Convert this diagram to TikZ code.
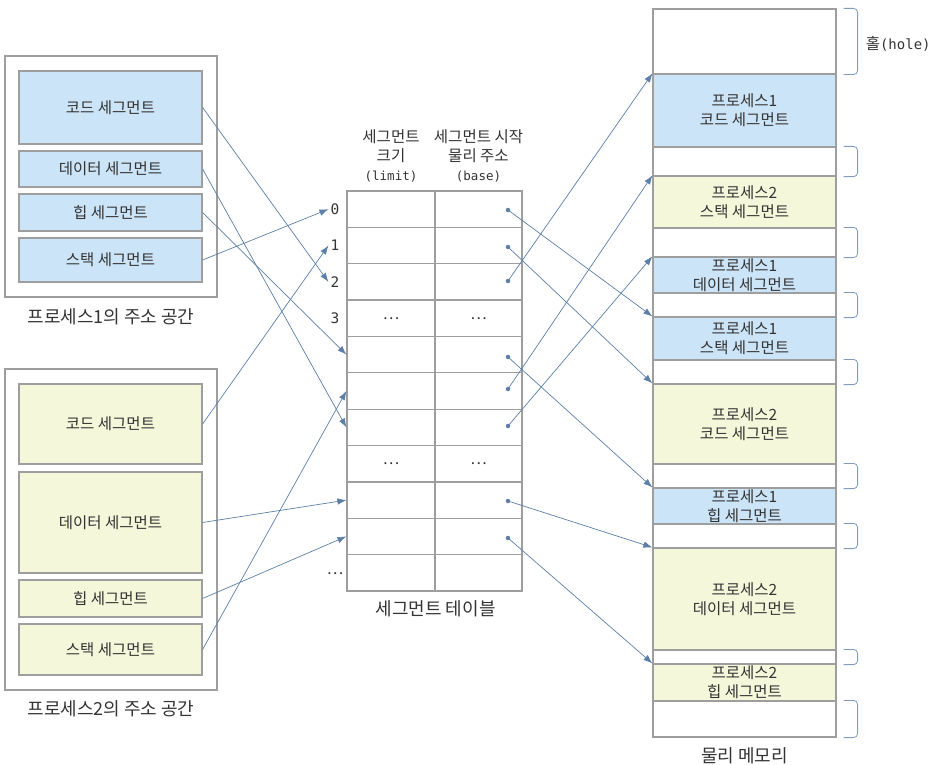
\documentclass[tikz,border=0pt]{standalone}
\usepackage{fontspec}
\setmainfont{Noto Sans CJK KR}
\setmonofont{DejaVu Sans Mono}
\usetikzlibrary{calc,arrows.meta}
\definecolor{FrameGray}{RGB}{158,158,158}
\definecolor{TextGray}{RGB}{51,51,51}
\definecolor{SegBlue}{RGB}{204,228,247}
\definecolor{SegYellow}{RGB}{245,247,218}
\definecolor{ArrowBlue}{RGB}{91,127,168}
\definecolor{BraceBlue}{RGB}{127,157,189}
\tikzset{%
	% Style of the address space frame
	SpaceFrame/.style={draw=FrameGray,line width=1.2pt,inner sep=0,minimum width=212},
	% Style of a segment of process 1
	SegOne/.style={draw=FrameGray,line width=1.2pt,fill=SegBlue,inner sep=0,minimum width=183,
		text=TextGray,align=center,font=\fontsize{15.5}{19}\selectfont},
	% Style of a segment of process 2
	SegTwo/.style={SegOne,fill=SegYellow},
	% Style of a hole in memory
	MemHole/.style={SegOne,fill=white},
	% Style of a table cell
	TableCell/.style={draw=FrameGray,line width=1.2pt,inner sep=0,minimum height=36.36,
		text=TextGray,font=\fontsize{15.5}{19}\selectfont},
	LimitCell/.style={TableCell,minimum width=88},
	BaseCell/.style={TableCell,minimum width=87},
	% Style of the row number
	RowName/.style={font=\ttfamily\fontsize{14.5}{16}\selectfont,text=TextGray,inner sep=2},
	% Style of the captions
	Caption/.style={font=\fontsize{18}{22}\selectfont,text=TextGray},
	% Style of the column titles
	ColName/.style={font=\fontsize{15.5}{19}\selectfont,text=TextGray,align=center},
	% Style of the base address dot
	Dot/.style={circle,fill=ArrowBlue,inner sep=0,minimum size=4.5},
	% Style of the connection
	Connection/.style={draw=ArrowBlue,line width=0.7pt,-{Latex[length=9pt,width=6.5pt]}},
	% Style of the hole brace
	HoleBrace/.style={draw=BraceBlue,line width=0.8pt,rounded corners=4pt},
}
\begin{document}
\begin{tikzpicture}[x=1pt,y=-1pt] % STYLES
\useasboundingbox (0,0) rectangle (934,765);

%~~~~~~~~~~~~~~~~~~~~~~~~~~~~~~~~~~~~~~~~~~~~~~~~~~
% Process address spaces
%~~~~~~~~~~~~~~~~~~~~~~~~~~~~~~~~~~~~~~~~~~~~~~~~~~
\node[SpaceFrame, minimum height=241] (P1Space) at (111, 176.5) {};
\node[Caption] at ($ (P1Space.south) + (0, 19) $) {프로세스1의 주소 공간};

\node[SegOne, minimum height=73] (P1Code) at (110.5, 107.5) {코드 세그먼트};
\node[SegOne, minimum height=36] (P1Data) at (110.5, 169) {데이터 세그먼트};
\node[SegOne, minimum height=37] (P1Heap) at (110.5, 212.5) {힙 세그먼트};
\node[SegOne, minimum height=44] (P1Stack) at (110.5, 260) {스택 세그먼트};

\node[SpaceFrame, minimum height=321] (P2Space) at (111, 529.5) {};
\node[Caption] at ($ (P2Space.south) + (0, 18) $) {프로세스2의 주소 공간};

\node[SegTwo, minimum height=80] (P2Code) at (110.5, 424) {코드 세그먼트};
\node[SegTwo, minimum height=101] (P2Data) at (110.5, 522.5) {데이터 세그먼트};
\node[SegTwo, minimum height=37] (P2Heap) at (110.5, 598.5) {힙 세그먼트};
\node[SegTwo, minimum height=51] (P2Stack) at (110.5, 649.5) {스택 세그먼트};

%~~~~~~~~~~~~~~~~~~~~~~~~~~~~~~~~~~~~~~~~~~~~~~~~~~
% Segment table
%~~~~~~~~~~~~~~~~~~~~~~~~~~~~~~~~~~~~~~~~~~~~~~~~~~
\node[LimitCell] (L0) at (391, 209.2) {};
\node[BaseCell] (B0) at (478.5, 209.2) {};
\node[LimitCell] (L1) at (391, 245.5) {};
\node[BaseCell] (B1) at (478.5, 245.5) {};
\node[LimitCell] (L2) at (391, 281.9) {};
\node[BaseCell] (B2) at (478.5, 281.9) {};
\node[LimitCell] (L3) at (391, 318.3) {…};
\node[BaseCell] (B3) at (478.5, 318.3) {…};
\node[LimitCell] (L4) at (391, 354.6) {};
\node[BaseCell] (B4) at (478.5, 354.6) {};
\node[LimitCell] (L5) at (391, 391.0) {};
\node[BaseCell] (B5) at (478.5, 391.0) {};
\node[LimitCell] (L6) at (391, 427.4) {};
\node[BaseCell] (B6) at (478.5, 427.4) {};
\node[LimitCell] (L7) at (391, 463.7) {…};
\node[BaseCell] (B7) at (478.5, 463.7) {…};
\node[LimitCell] (L8) at (391, 500.1) {};
\node[BaseCell] (B8) at (478.5, 500.1) {};
\node[LimitCell] (L9) at (391, 536.4) {};
\node[BaseCell] (B9) at (478.5, 536.4) {};
\node[LimitCell] (L10) at (391, 572.8) {};
\node[BaseCell] (B10) at (478.5, 572.8) {};

\node[ColName] at ($ (L0.north) + (0, -35) $) {세그먼트\\크기\\{\ttfamily\fontsize{12.5}{19}\selectfont (limit)}};
\node[ColName] at ($ (B0.north) + (0, -35) $) {세그먼트 시작\\물리 주소\\{\ttfamily\fontsize{12.5}{19}\selectfont (base)}};
\node[Caption] at ($ (L10.south east) + (0, 17) $) {세그먼트 테이블};

\node[RowName] (R0) at (335, 209.2) {0};
\node[RowName] (R1) at (335, 245.5) {1};
\node[RowName] (R2) at (335, 281.9) {2};
\node[RowName] (R3) at (335, 318.3) {3};
\node[TableCell, draw=none] at (335, 574) {…};

\node[Dot] (D0) at (508, 210) {};
\node[Dot] (D1) at (508, 247) {};
\node[Dot] (D2) at (508, 281) {};
\node[Dot] (D4) at (508, 357) {};
\node[Dot] (D5) at (508, 389) {};
\node[Dot] (D6) at (508, 426) {};
\node[Dot] (D8) at (508, 501) {};
\node[Dot] (D9) at (508, 538) {};

%~~~~~~~~~~~~~~~~~~~~~~~~~~~~~~~~~~~~~~~~~~~~~~~~~~
% Physical memory
%~~~~~~~~~~~~~~~~~~~~~~~~~~~~~~~~~~~~~~~~~~~~~~~~~~
\node[MemHole, minimum height=65] (H0) at (744.5, 41.5) {};
\node[SegOne, minimum height=73] (MemP1Code) at (744.5, 110.5) {프로세스1\\코드 세그먼트};
\node[MemHole, minimum height=29] (H1) at (744.5, 161.5) {};
\node[SegTwo, minimum height=52] (MemP2Stack) at (744.5, 202) {프로세스2\\스택 세그먼트};
\node[MemHole, minimum height=29] (H2) at (744.5, 242.5) {};
\node[SegOne, minimum height=36] (MemP1Data) at (744.5, 275) {프로세스1\\데이터 세그먼트};
\node[MemHole, minimum height=24] (H3) at (744.5, 305) {};
\node[SegOne, minimum height=43] (MemP1Stack) at (744.5, 338.5) {프로세스1\\스택 세그먼트};
\node[MemHole, minimum height=24] (H4) at (744.5, 372) {};
\node[SegTwo, minimum height=80] (MemP2Code) at (744.5, 424) {프로세스2\\코드 세그먼트};
\node[MemHole, minimum height=24] (H5) at (744.5, 476) {};
\node[SegOne, minimum height=36] (MemP1Heap) at (744.5, 506) {프로세스1\\힙 세그먼트};
\node[MemHole, minimum height=24] (H6) at (744.5, 536) {};
\node[SegTwo, minimum height=102] (MemP2Data) at (744.5, 599) {프로세스2\\데이터 세그먼트};
\node[MemHole, minimum height=14] (H7) at (744.5, 657) {};
\node[SegTwo, minimum height=37] (MemP2Heap) at (744.5, 682.5) {프로세스2\\힙 세그먼트};
\node[MemHole, minimum height=36] (H8) at (744.5, 719) {};
\node[Caption] at ($ (H8.south) + (0, 18) $) {물리 메모리};

\draw[HoleBrace] ($ (H0.north east) + (7, 0) $) -| ($ (H0.south east) + (21, 0) $) -- ($ (H0.south east) + (7, 0) $);
\draw[HoleBrace] ($ (H1.north east) + (7, 0) $) -| ($ (H1.south east) + (21, 0) $) -- ($ (H1.south east) + (7, 0) $);
\draw[HoleBrace] ($ (H2.north east) + (7, 0) $) -| ($ (H2.south east) + (21, 0) $) -- ($ (H2.south east) + (7, 0) $);
\draw[HoleBrace] ($ (H3.north east) + (7, 0) $) -| ($ (H3.south east) + (21, 0) $) -- ($ (H3.south east) + (7, 0) $);
\draw[HoleBrace] ($ (H4.north east) + (7, 0) $) -| ($ (H4.south east) + (21, 0) $) -- ($ (H4.south east) + (7, 0) $);
\draw[HoleBrace] ($ (H5.north east) + (7, 0) $) -| ($ (H5.south east) + (21, 0) $) -- ($ (H5.south east) + (7, 0) $);
\draw[HoleBrace] ($ (H6.north east) + (7, 0) $) -| ($ (H6.south east) + (21, 0) $) -- ($ (H6.south east) + (7, 0) $);
\draw[HoleBrace] ($ (H7.north east) + (7, 0) $) -| ($ (H7.south east) + (21, 0) $) -- ($ (H7.south east) + (7, 0) $);
\draw[HoleBrace] ($ (H8.north east) + (7, 0) $) -| ($ (H8.south east) + (21, 0) $) -- ($ (H8.south east) + (7, 0) $);
\node[ColName, anchor=west, inner sep=0] at ($ (H0.east) + (29, 2) $) {홀{\ttfamily\fontsize{14}{19}\selectfont (hole)}};

%~~~~~~~~~~~~~~~~~~~~~~~~~~~~~~~~~~~~~~~~~~~~~~~~~~
% Set Branches
%~~~~~~~~~~~~~~~~~~~~~~~~~~~~~~~~~~~~~~~~~~~~~~~~~~
% Segments to table rows
\draw[Connection] (P1Stack.east) -- (R0.west);
\draw[Connection] (P2Code.east) -- (R1.west);
\draw[Connection] (P1Code.east) -- (R2.west);
\draw[Connection] (P1Heap.east) -- (L4.west);
\draw[Connection] (P2Stack.east) -- (L5.west);
\draw[Connection] (P1Data.east) -- (L6.west);
\draw[Connection] (P2Data.east) -- (L8.west);
\draw[Connection] (P2Heap.east) -- (L9.west);

% Base addresses to memory
\draw[Connection] (D0.center) -- (MemP1Stack.north west);
\draw[Connection] (D1.center) -- (MemP2Code.north west);
\draw[Connection] (D2.center) -- (MemP1Code.north west);
\draw[Connection] (D4.center) -- (MemP1Heap.north west);
\draw[Connection] (D5.center) -- (MemP2Stack.north west);
\draw[Connection] (D6.center) -- (MemP1Data.north west);
\draw[Connection] (D8.center) -- (MemP2Data.north west);
\draw[Connection] (D9.center) -- (MemP2Heap.north west);

\end{tikzpicture}
\end{document}
